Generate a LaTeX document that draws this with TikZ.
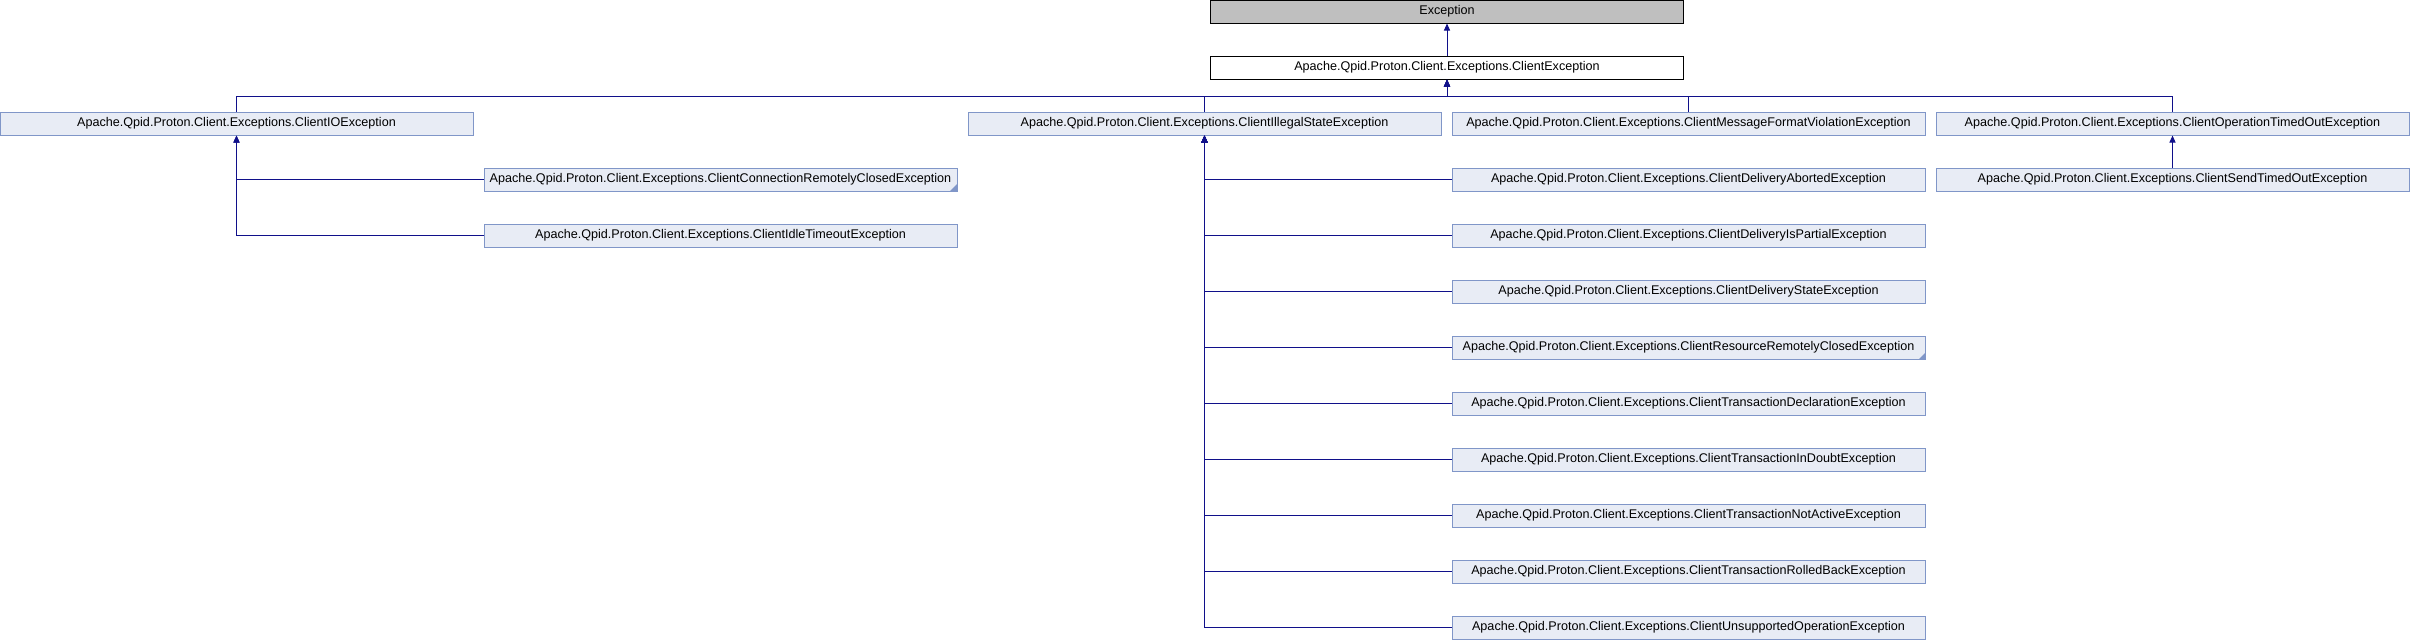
\documentclass[tikz,border=0pt]{standalone}
\usepackage{fontspec}
\setmainfont{Liberation Sans}
\usetikzlibrary{arrows.meta}

\definecolor{clsfill}{HTML}{E8ECF5}
\definecolor{clsdraw}{HTML}{8096C8}
\definecolor{edgecol}{HTML}{10108A}

\begin{document}
\begin{tikzpicture}[x=1pt, y=-1pt,
    cls/.style={draw=clsdraw, fill=clsfill, line width=1pt, minimum width=473pt, minimum height=23pt, inner sep=0pt, font=\fontsize{12.6}{14}\selectfont},
    topcls/.style={cls, draw=black, fill=white},
    basecls/.style={cls, draw=black, fill=black!25},
    more/.style={path picture={\fill[clsdraw] (path picture bounding box.south east) -- ++(-7pt,0pt) -- ++(7pt,7pt) -- cycle;}},
    edge/.style={draw=edgecol, line width=1pt, -{Triangle[width=6pt,length=7pt]}}]
  \useasboundingbox (0,0) rectangle (2410,640);

  % base classes
  \node[basecls] (exc) at (1447,11.5) {Exception};
  \node[topcls] (cexc) at (1447,67.5) {Apache.Qpid.Proton.Client.Exceptions.ClientException};

  % first level
  \node[cls] (io) at (236.5,123.5) {Apache.Qpid.Proton.Client.Exceptions.ClientIOException};
  \node[cls] (ill) at (1204.5,123.5) {Apache.Qpid.Proton.Client.Exceptions.ClientIllegalStateException};
  \node[cls] (fmt) at (1688.5,123.5) {Apache.Qpid.Proton.Client.Exceptions.ClientMessageFormatViolationException};
  \node[cls] (timed) at (2172.5,123.5) {Apache.Qpid.Proton.Client.Exceptions.ClientOperationTimedOutException};

  % children of ClientIOException
  \node[cls, more] (conn) at (720.5,179.5) {Apache.Qpid.Proton.Client.Exceptions.ClientConnectionRemotelyClosedException};
  \node[cls] (idle) at (720.5,235.5) {Apache.Qpid.Proton.Client.Exceptions.ClientIdleTimeoutException};

  % child of ClientOperationTimedOutException
  \node[cls] (send) at (2172.5,179.5) {Apache.Qpid.Proton.Client.Exceptions.ClientSendTimedOutException};

  % children of ClientIllegalStateException
  \foreach \name [count=\i] in {ClientDeliveryAbortedException, ClientDeliveryIsPartialException,
      ClientDeliveryStateException, ClientResourceRemotelyClosedException,
      ClientTransactionDeclarationException, ClientTransactionInDoubtException,
      ClientTransactionNotActiveException, ClientTransactionRolledBackException,
      ClientUnsupportedOperationException} {
    \node[cls] (st\i) at (1688.5,123.5+56*\i) {Apache.Qpid.Proton.Client.Exceptions.\name};
    \draw[edge] (st\i.west) -| (ill.south);
  }
  \fill[clsdraw] (st4.south east) -- ++(-7pt,0pt) -- ++(7pt,7pt) -- cycle;

  % inheritance
  \coordinate (bus) at (1447,96);
  \draw[edge] (cexc) -- (exc);
  \draw[edge] (io.north) |- (bus) -- (cexc.south);
  \draw[edge] (ill.north) |- (bus) -- (cexc.south);
  \draw[edge] (fmt.north) |- (bus) -- (cexc.south);
  \draw[edge] (timed.north) |- (bus) -- (cexc.south);
  \draw[edge] (conn.west) -| (io.south);
  \draw[edge] (idle.west) -| (io.south);
  \draw[edge] (send) -- (timed);
\end{tikzpicture}
\end{document}
